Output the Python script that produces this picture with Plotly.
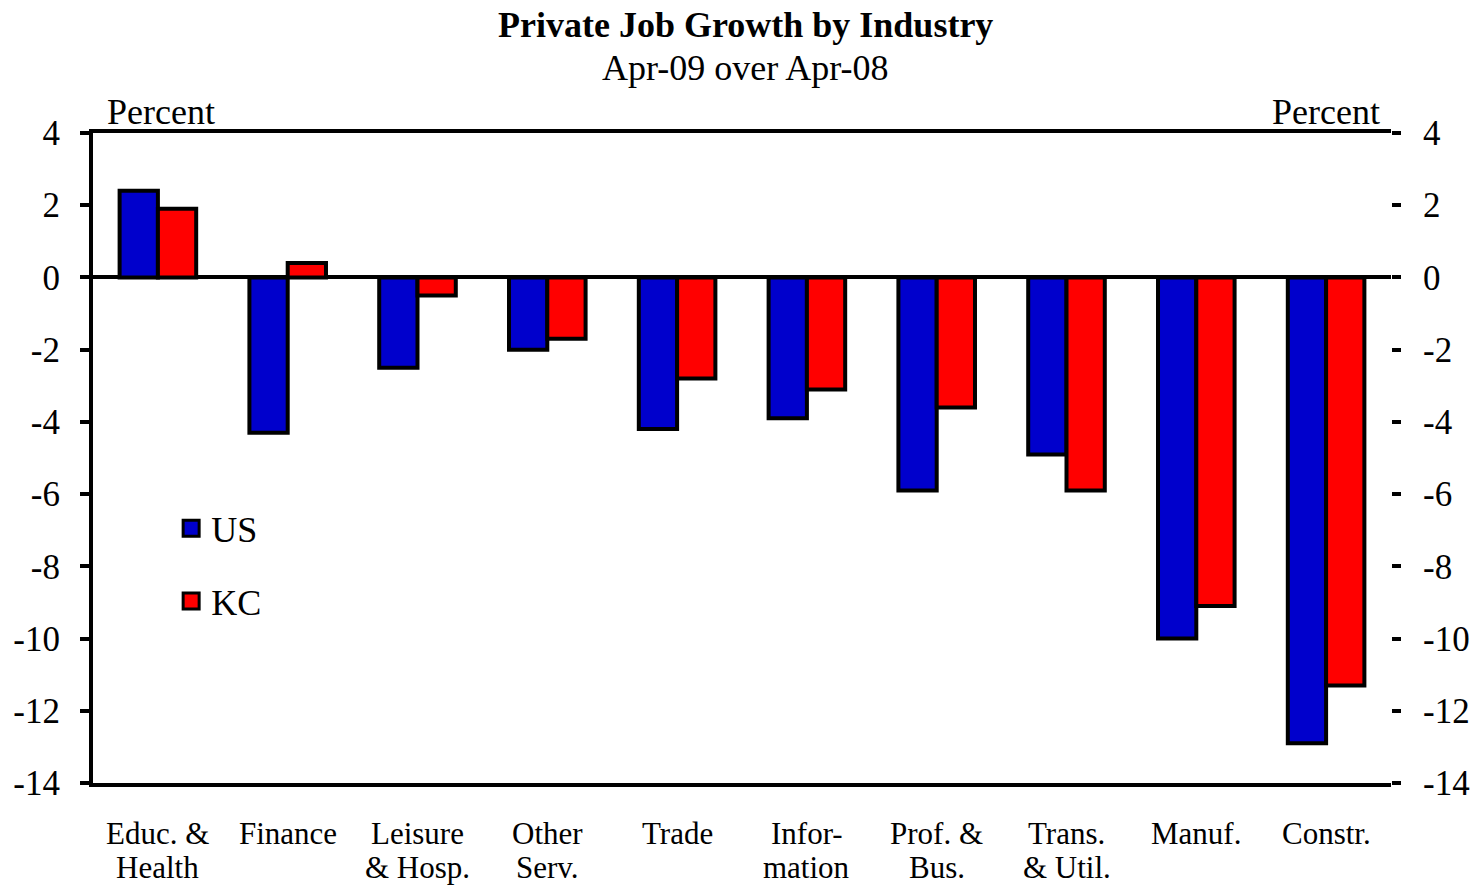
import plotly.graph_objects as go

# Year-over-year private job growth, April 2009 vs April 2008 (percent)
industries = ["Educ. &<br>Health", "Finance", "Leisure<br>& Hosp.", "Other<br>Serv.", "Trade",
              "Infor-<br>mation", "Prof. &<br>Bus.", "Trans.<br>& Util.", "Manuf.", "Constr."]
us_growth = [2.4, -4.3, -2.5, -2.0, -4.2, -3.9, -5.9, -4.9, -10.0, -12.9]
kc_growth = [1.9, 0.4, -0.5, -1.7, -2.8, -3.1, -3.6, -5.9, -9.1, -11.3]
tick_values = [4, 2, 0, -2, -4, -6, -8, -10, -12, -14]
tick_labels = [str(v) for v in tick_values]

FONT = "Liberation Serif, Times New Roman, serif"
US_BLUE = "#0000CC"
KC_RED = "#FF0000"
y_range = [-14, 4]
x_range = [-0.5, len(industries) - 0.5]

fig = go.Figure()
fig.add_trace(go.Bar(x=industries, y=us_growth, name="US", showlegend=False,
                     marker=dict(color=US_BLUE, line=dict(color="black", width=4))))
fig.add_trace(go.Bar(x=industries, y=kc_growth, name="KC", showlegend=False,
                     marker=dict(color=KC_RED, line=dict(color="black", width=4))))

# legend entries with larger square swatches
for name, color in [("US", US_BLUE), ("KC", KC_RED)]:
    fig.add_trace(go.Scatter(x=[industries[0]], y=[None], mode="markers", name=name,
                             legendgroup=name,
                             marker=dict(symbol="square", size=16, color=color,
                                         line=dict(color="black", width=3))))

# invisible trace so the right-hand axis is drawn
fig.add_trace(go.Scatter(x=industries, y=[None] * len(industries), yaxis="y2",
                         showlegend=False, hoverinfo="skip", mode="lines"))

fig.update_layout(
    width=1477, height=887,
    margin=dict(l=93, r=86, t=133, b=104),
    paper_bgcolor="white", plot_bgcolor="white",
    font=dict(family=FONT, size=32, color="black"),
    barmode="group", bargap=0.41, bargroupgap=0,
    showlegend=True,
    legend=dict(x=0.0602, y=0.438, xanchor="left", yanchor="top",
                font=dict(size=36), tracegroupgap=23, bgcolor="rgba(0,0,0,0)",
                itemwidth=30),
    xaxis=dict(range=x_range, showgrid=False, showline=True, linecolor="black", linewidth=4,
               mirror=True, ticks="", showticklabels=False, automargin=False),
    yaxis=dict(range=y_range, tickvals=tick_values, ticktext=tick_labels, showgrid=False,
               zeroline=True, zerolinecolor="black", zerolinewidth=4,
               showline=True, linecolor="black", linewidth=4,
               ticks="outside", ticklen=9, tickwidth=4, tickcolor="black",
               tickfont=dict(size=35), ticklabelstandoff=13, automargin=False),
    yaxis2=dict(range=y_range, tickvals=tick_values, ticktext=tick_labels,
                overlaying="y", side="right",
                showgrid=False, zeroline=False, showline=False,
                ticks="outside", ticklen=9, tickwidth=4, tickcolor="black",
                tickfont=dict(size=35), ticklabelstandoff=15, automargin=False),
)

# category labels, one line per annotation for tighter line spacing
for cat in industries:
    for i, line in enumerate(cat.split("<br>")):
        fig.add_annotation(text=line, x=cat, xref="x", y=0, yref="paper",
                           yshift=-50 - 34 * i, xanchor="center", yanchor="middle",
                           showarrow=False, font=dict(size=31))

fig.add_annotation(text="<b>Private Job Growth by Industry</b>", xref="paper", yref="paper",
                   x=0.5, y=1, xshift=3, yshift=108, xanchor="center", yanchor="middle",
                   showarrow=False, font=dict(size=36))
fig.add_annotation(text="Apr-09 over Apr-08", xref="paper", yref="paper",
                   x=0.5, y=1, xshift=3, yshift=65, xanchor="center", yanchor="middle",
                   showarrow=False, font=dict(size=36))
fig.add_annotation(text="Percent", xref="paper", yref="paper",
                   x=0, y=1, xshift=12, yshift=21, xanchor="left", yanchor="middle",
                   showarrow=False, font=dict(size=36))
fig.add_annotation(text="Percent", xref="paper", yref="paper",
                   x=1, y=1, xshift=-9, yshift=21, xanchor="right", yanchor="middle",
                   showarrow=False, font=dict(size=36))

fig.write_html("out.html")
